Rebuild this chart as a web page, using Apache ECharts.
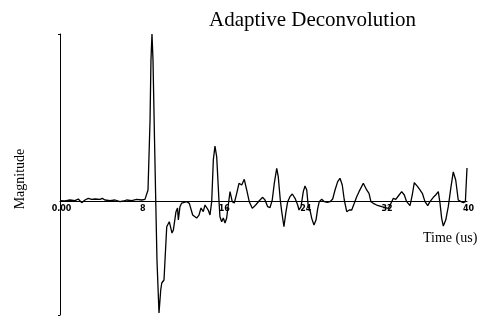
<!DOCTYPE html>
<html>
<head>
<meta charset="utf-8">
<title>Adaptive Deconvolution</title>
<script src="https://cdn.jsdelivr.net/npm/echarts@6/dist/echarts.min.js"></script>
<style>
  html, body { margin: 0; padding: 0; background: #fff; }
  #chart { width: 483px; height: 320px; }
</style>
</head>
<body>
<div id="chart"></div>
<script>
// Deconvolved trace: sample times (us) and normalised magnitude
const times = [
  0.00, 0.49, 0.98, 1.47, 1.80, 2.13, 2.46, 2.78, 3.11, 3.44, 3.60, 3.93, 4.16, 4.42,
  4.91, 5.41, 5.90, 6.22, 6.55, 7.05, 7.54, 8.03, 8.35, 8.52,
  8.65, 8.85, 8.94, 9.04, 9.14, 9.29, 9.41, 9.53, 9.73, 9.90, 10.00, 10.22, 10.49, 10.74,
  11.01, 11.14, 11.40, 11.55, 11.63, 11.79, 11.96, 12.12, 12.45, 12.71, 13.04, 13.43,
  13.66, 13.86, 14.08, 14.25, 14.42, 14.57, 14.74, 14.91, 15.07, 15.23, 15.40, 15.63,
  15.72, 15.89, 16.05, 16.22, 16.38, 16.54, 16.71, 16.93, 17.13, 17.37, 17.59, 17.86,
  18.11, 18.35, 18.60, 18.90, 19.23, 19.56, 19.92, 20.15, 20.41, 20.64, 20.86, 21.06,
  21.30, 21.45, 21.65, 21.79, 22.01, 22.21, 22.38, 22.60, 22.83, 23.10, 23.36, 23.49,
  23.69, 23.91, 24.08, 24.25, 24.40, 24.57, 24.74, 24.96, 25.16, 25.33, 25.48, 25.72,
  25.98, 26.27, 26.54, 26.80, 27.03, 27.29, 27.52, 27.74, 27.94, 28.18, 28.43, 28.67,
  28.92, 29.16, 29.39, 29.58, 29.81, 29.98, 30.14, 30.37, 30.56, 30.79, 31.12, 31.62,
  32.27, 32.60, 32.76, 33.00, 33.25, 33.58, 33.84, 34.07, 34.40, 34.62, 34.82, 34.99,
  35.15, 35.38, 35.61, 35.87, 36.14, 36.36, 36.69, 36.92, 37.18, 37.35, 37.51, 37.67,
  37.91, 38.16, 38.43, 38.65, 38.89, 39.14, 39.41, 39.64, 39.84, 40.00
];
const magnitude = [
  0.002, 0.000, 0.006, 0.002, 0.012, -0.010, 0.006, 0.016, 0.010, 0.012, 0.022, 0.010, 0.016, 0.006,
  0.002, 0.006, -0.004, 0.000, 0.006, 0.002, 0.010, 0.006, 0.010, 0.016,
  0.066, 0.485, 0.844, 1.000, 0.844, 0.365, 0.000, -0.353, -0.671, -0.533, -0.491, -0.473, -0.154, -0.124,
  -0.192, -0.174, -0.064, -0.042, -0.114, -0.034, -0.012, -0.004, -0.004, -0.014, -0.084, -0.102,
  -0.084, -0.042, -0.064, -0.024, -0.014, -0.054, -0.084, -0.004, 0.246, 0.329, 0.265, -0.004,
  -0.094, -0.124, -0.102, -0.132, -0.102, -0.024, 0.056, -0.004, -0.012, 0.046, 0.106, 0.096,
  0.130, 0.066, -0.004, -0.044, -0.024, 0.000, 0.022, 0.006, -0.034, -0.040, 0.006, 0.106,
  0.196, 0.146, 0.006, -0.064, -0.154, -0.064, -0.004, 0.026, 0.042, 0.016, -0.024, -0.054,
  -0.034, 0.056, 0.090, 0.066, -0.034, -0.054, -0.104, -0.144, -0.114, -0.044, -0.004, 0.010,
  -0.004, -0.008, -0.004, 0.012, 0.066, 0.116, 0.136, 0.096, 0.006, -0.064, -0.054, -0.054,
  -0.014, 0.026, 0.056, 0.046, 0.106, 0.096, 0.066, 0.046, -0.004, -0.014, -0.024, -0.034,
  -0.044, -0.004, 0.016, 0.010, 0.030, 0.056, 0.036, -0.004, -0.028, 0.036, 0.110, 0.116,
  0.086, 0.066, 0.046, -0.004, -0.028, -0.004, 0.022, 0.036, 0.056, -0.014, -0.104, -0.150,
  -0.114, -0.034, 0.086, 0.174, 0.126, 0.006, -0.004, -0.010, -0.004, 0.198
];
const timeTicks = [0, 8, 16, 24, 32, 40];
const yMin = -0.6826;
const yMax = 1.0;

const gridTop = 34;
const gridBottom = 5;
const chartHeight = 320;

// Distance from the plot's bottom edge up to the zero level, used to lift the time axis onto y = 0
const plotHeight = chartHeight - gridTop - gridBottom;
const zeroLift = plotHeight * (0 - yMin) / (yMax - yMin);

const chart = echarts.init(document.getElementById('chart'), null, { renderer: 'canvas' });

const serif = '"Liberation Serif", "Times New Roman", serif';

chart.setOption({
  backgroundColor: '#ffffff',
  animation: false,
  grid: {
    left: 60, right: 16, top: gridTop, bottom: gridBottom,
    containLabel: false, outerBoundsMode: 'none'
  },
  xAxis: {
    type: 'value',
    min: 0,
    max: 40,
    position: 'bottom',
    offset: -zeroLift,
    axisLine: { show: true, onZero: false, lineStyle: { color: '#000', width: 1 } },
    axisTick: { show: false, customValues: timeTicks },
    axisLabel: {
      customValues: timeTicks,
      formatter: v => (v === 0 ? '0.00' : String(v)),
      color: '#000',
      fontFamily: '"DejaVu Sans", sans-serif',
      fontWeight: 'bold',
      fontSize: 8,
      margin: 4,
      padding: [0, 0, 0, 3]
    },
    splitLine: { show: false }
  },
  yAxis: {
    type: 'value',
    min: yMin,
    max: yMax,
    axisLine: { show: true, onZero: false, lineStyle: { color: '#000', width: 1 } },
    axisTick: { show: true, customValues: [yMin, yMax], length: 2, lineStyle: { color: '#000' } },
    axisLabel: { show: false },
    splitLine: { show: false }
  },
  graphic: [
    {
      type: 'text', left: 209, top: 10,
      style: { text: 'Adaptive Deconvolution', fill: '#000', font: '21px ' + serif }
    },
    {
      type: 'text', left: 423, top: 231,
      style: { text: 'Time (us)', fill: '#000', font: '14px ' + serif }
    },
    {
      type: 'text', x: 20, y: 179, rotation: Math.PI / 2,
      style: { text: 'Magnitude', fill: '#000', font: '14px ' + serif, align: 'center', verticalAlign: 'middle' }
    }
  ],
  series: [{
    type: 'line',
    data: times.map((t, i) => [t, magnitude[i]]),
    showSymbol: false,
    smooth: false,
    clip: false,
    lineStyle: { color: '#000', width: 1.3 }
  }]
});
</script>
</body>
</html>
